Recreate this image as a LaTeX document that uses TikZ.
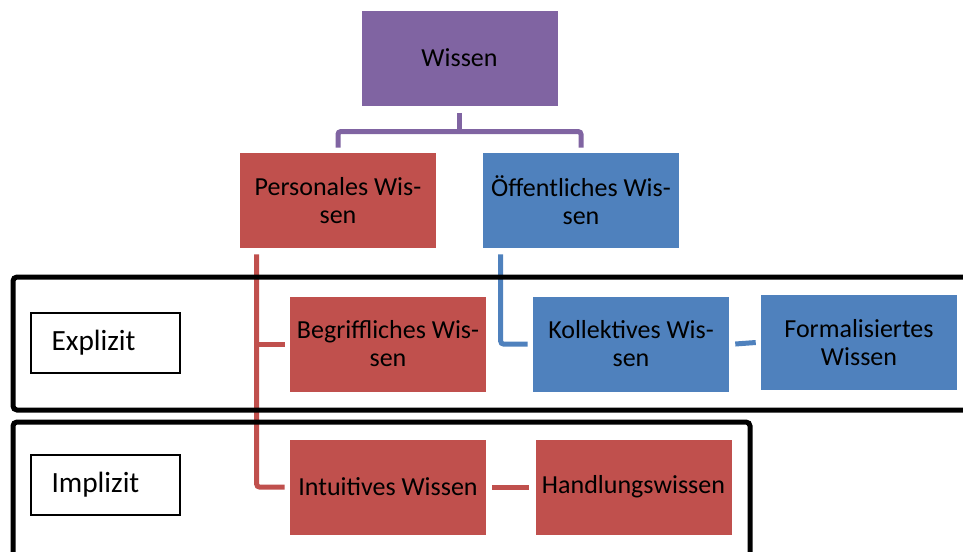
\documentclass[tikz,border=0pt]{standalone}
\usepackage{fontspec}
\setmainfont{Carlito}
\usetikzlibrary{calc}
\definecolor{wpurple}{HTML}{8064A2}
\definecolor{wred}{HTML}{C0504D}
\definecolor{wblue}{HTML}{4F81BD}
\begin{document}
\begin{tikzpicture}[x=0.75pt,y=-0.75pt,
  kbox/.style={minimum width=147pt, minimum height=71.25pt, inner sep=0pt, align=center,
    font=\fontsize{19.5}{21}\selectfont, text=black},
  pbox/.style={kbox, fill=wpurple},
  rbox/.style={kbox, fill=wred},
  bbox/.style={kbox, fill=wblue},
  conn/.style={line width=3.75pt, rounded corners=2pt},
  frame/.style={draw=black, line width=3.75pt, rounded corners=3pt},
  lbox/.style={draw=black, line width=0.9pt, minimum height=45pt, text width=81pt,
    inner xsep=15.4pt, inner ysep=0pt, align=left, font=\fontsize{22}{26}\selectfont}]
\useasboundingbox (0,0) rectangle (963,551);
\clip (0,0) rectangle (963,551);

% nodes
\node[pbox] (w) at (459.5,58) {Wissen};
\node[rbox] (pers) at (338,200.5) {Personales Wis-\\sen};
\node[bbox] (off) at (581,200.5) {Öffentliches Wis-\\sen};
\node[rbox] (begr) at (388,344) {Begriffliches Wis-\\sen};
\node[bbox] (kol) at (631,344) {Kollektives Wis-\\sen};
\node[bbox] (form) at (859,342.5) {Formalisiertes\\Wissen};
\node[rbox] (intu) at (388,487) {Intuitives Wissen};
\node[rbox] (handl) at (633.5,487) {Handlungswissen};

\node[lbox] (expl) at (105.5,343) {Explizit};
\node[lbox] (impl) at (105.5,485) {Implizit};

% purple connectors
\coordinate (mid) at ($(w.south)!0.55!(pers.north)$);
\draw[conn, wpurple] ($(w.south)+(0,7)$) -- (w.south |- mid);
\draw[conn, wpurple] ($(pers.north)+(0,-5)$) |- (mid) -| ($(off.north)+(0,-5)$);

% red connectors
\coordinate (rtop) at ($(pers.south west)+(17,6)$);
\draw[conn, wred] (rtop) |- ($(intu.west)+(-5,0)$);
\draw[conn, wred] (rtop |- begr.west) -- ($(begr.west)+(-5,0)$);
\draw[conn, wred] ($(intu.east)+(6,0)$) -- ($(handl.west)+(-6,0)$);

% blue connectors
\coordinate (btop) at ($(off.south west)+(18,6)$);
\draw[conn, wblue] (btop) |- ($(kol.west)+(-5,0)$);
\draw[conn, wblue] ($(kol.east)+(6,0)$) -- ($(form.west)+(-5,0)$);

% frames
\draw[frame] (13,277) rectangle (985,410);
\draw[frame] (13,422) rectangle (750,590);
\end{tikzpicture}
\end{document}
